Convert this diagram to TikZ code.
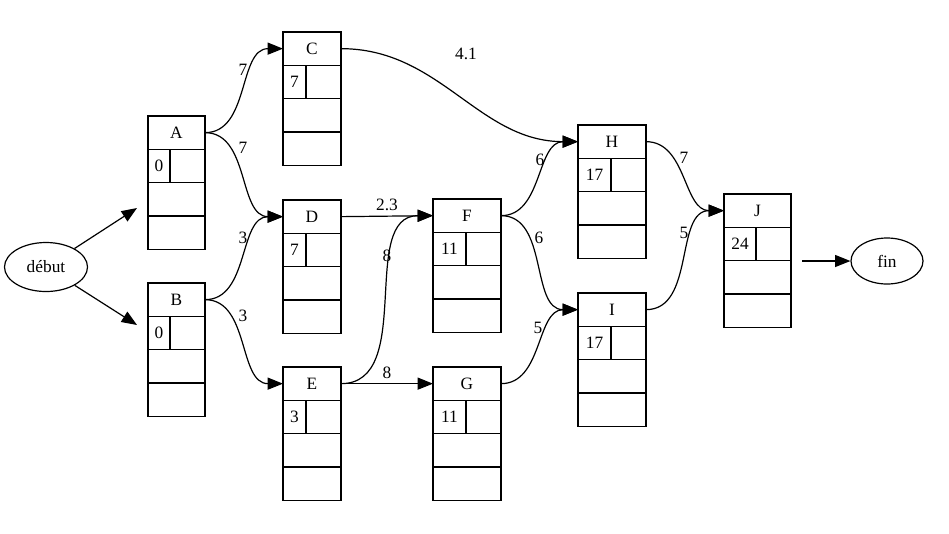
\documentclass[tikz,border=0pt]{standalone}
\usepackage{fontspec}
\setmainfont{Liberation Serif}
\usetikzlibrary{arrows.meta,shapes.geometric}

\tikzset{
  lbfont/.style={font=\fontsize{13}{15}\selectfont},
  cell/.style={draw, line width=0.9pt, rectangle, inner sep=0pt, outer sep=0pt,
    minimum height=33.3*0.75pt, anchor=north west, lbfont},
  oval/.style={draw, line width=0.9pt, ellipse, inner sep=0pt, lbfont},
  edge/.style={draw, line width=0.9pt,
    -{Triangle[length=11.5pt, width=9pt]}},
  lbl/.style={inner sep=0pt, lbfont},
}

% record box: name, x, y (top), width, value-cell width, value
\newcommand\recbox[6]{%
  \node[cell, minimum width=#4*0.75pt] (#1) at (#2,#3) {#1};
  \node[cell, minimum width=#5*0.75pt] (#1v) at (#2,#3+33.3) {#6};
  \node[cell, minimum width=(#4-#5)*0.75pt] (#1w) at (#2+#5,#3+33.3) {};
  \node[cell, minimum width=#4*0.75pt] (#1x) at (#2,#3+66.6) {};
  \node[cell, minimum width=#4*0.75pt] (#1y) at (#2,#3+99.9) {};
}

\begin{document}
\begin{tikzpicture}[x=0.75pt, y=-0.75pt]
  \useasboundingbox[fill=white] (0,0) rectangle (949,533);

  % terminals
  \node[oval, minimum width=83*0.75pt, minimum height=49*0.75pt] (debut) at (46,267) {début};
  \node[oval, minimum width=72*0.75pt, minimum height=46*0.75pt] (fin) at (887,261) {fin};

  % tasks
  \recbox{A}{148}{116}{57}{22}{0}
  \recbox{B}{148}{283}{57}{22}{0}
  \recbox{C}{283}{32}{58}{23}{7}
  \recbox{D}{283}{200}{58}{23}{7}
  \recbox{E}{283}{367}{58}{23}{3}
  \recbox{F}{433}{199}{68}{33}{11}
  \recbox{G}{433}{367}{68}{33}{11}
  \recbox{H}{578}{125}{68}{33}{17}
  \recbox{I}{578}{293}{68}{33}{17}
  \recbox{J}{724}{194}{67}{32}{24}

  % free ends of the terminal arrows
  \coordinate (Ain) at (137,208);
  \coordinate (Bin) at (137,325);
  \coordinate (Jout) at (802,261);

  \draw[edge] (debut) -- (Ain);
  \draw[edge] (debut) -- (Bin);
  \draw[edge] (Jout) -- (fin);

  % precedence links
  \draw[edge] (A.east) to[out=0, in=180] (C.west);
  \draw[edge] (A.east) to[out=0, in=180] (D.west);
  \draw[edge] (B.east) to[out=0, in=180] (D.west);
  \draw[edge] (B.east) to[out=0, in=180] (E.west);
  \draw[edge] (C.east) to[out=0, in=180] (H.west);
  \draw[edge] (D.east) -- (F.west);
  \draw[edge] (E.east) to[out=0, in=180] (F.west);
  \draw[edge] (E.east) -- (G.west);
  \draw[edge] (F.east) to[out=0, in=180] (H.west);
  \draw[edge] (F.east) to[out=0, in=180] (I.west);
  \draw[edge] (G.east) to[out=0, in=180] (I.west);
  \draw[edge] (H.east) to[out=0, in=180] (J.west);
  \draw[edge] (I.east) to[out=0, in=180] (J.west);

  % durations
  \node[lbl] (lAC) at (243,70) {7};
  \node[lbl] (lAD) at (243,148) {7};
  \node[lbl] (lBD) at (243,238) {3};
  \node[lbl] (lBE) at (243,316) {3};
  \node[lbl] (lCH) at (466,54) {4.1};
  \node[lbl] (lDF) at (387,205) {2.3};
  \node[lbl] (lEF) at (387,256) {8};
  \node[lbl] (lEG) at (387,373) {8};
  \node[lbl] (lFH) at (540,160) {6};
  \node[lbl] (lFI) at (539,238) {6};
  \node[lbl] (lGI) at (538,328) {5};
  \node[lbl] (lHJ) at (684,158) {7};
  \node[lbl] (lIJ) at (684,233) {5};
\end{tikzpicture}
\end{document}
